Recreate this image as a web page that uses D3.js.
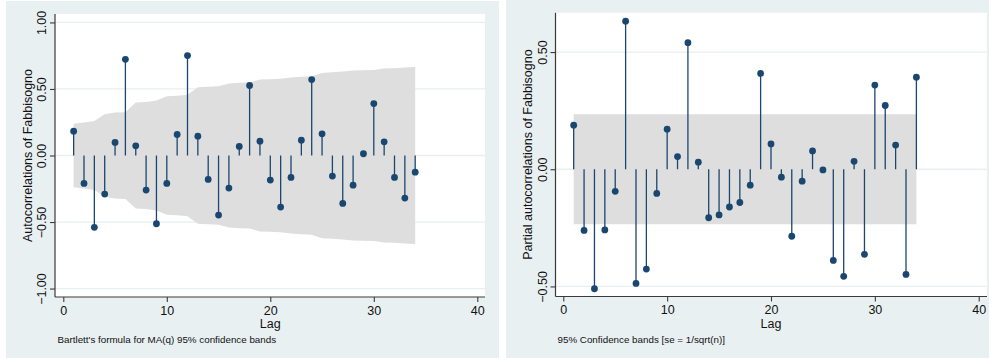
<!DOCTYPE html>
<html>
<head>
<meta charset="utf-8">
<script src="https://cdn.jsdelivr.net/npm/d3@7"></script>
<style>
  html, body { margin: 0; padding: 0; background: #ffffff; }
  svg { display: block; font-family: "Liberation Sans", Arial, sans-serif; }
</style>
</head>
<body>
<svg id="chart" width="989" height="358"></svg>
<script>
// Lags 1..34
const lags = d3.range(1, 35);

// Autocorrelations of Fabbisogno
const acfValues = [
  0.183, -0.210, -0.540, -0.290, 0.098, 0.723, 0.073, -0.260, -0.513, -0.210,
  0.158, 0.751, 0.145, -0.180, -0.448, -0.245, 0.068, 0.526, 0.108, -0.185,
  -0.388, -0.165, 0.115, 0.571, 0.163, -0.155, -0.360, -0.223, 0.013, 0.390,
  0.103, -0.165, -0.320, -0.125
];

// Bartlett MA(q) 95% confidence limits (upper; lower is the mirror)
const acfBand = [
  0.238, 0.248, 0.260, 0.310, 0.323, 0.326, 0.398, 0.403, 0.413, 0.446,
  0.450, 0.456, 0.513, 0.516, 0.521, 0.541, 0.546, 0.548, 0.571, 0.573,
  0.576, 0.586, 0.591, 0.596, 0.621, 0.626, 0.631, 0.638, 0.641, 0.643,
  0.653, 0.656, 0.661, 0.666
];

// Partial autocorrelations of Fabbisogno
const pacfValues = [
  0.188, -0.261, -0.510, -0.259, -0.094, 0.632, -0.487, -0.426, -0.103, 0.171,
  0.054, 0.540, 0.030, -0.207, -0.195, -0.161, -0.142, -0.068, 0.409, 0.108,
  -0.034, -0.286, -0.051, 0.078, -0.003, -0.389, -0.457, 0.034, -0.363, 0.359,
  0.272, 0.103, -0.449, 0.393
];

// 95% band for the PACF, se = 1/sqrt(n)
const pacfLimit = 0.235;

const xTicks = [0, 10, 20, 30, 40];
const acfYTicks = [-1, -0.5, 0, 0.5, 1];
const pacfYTicks = [-0.5, 0, 0.5];

const acfTitle = "Autocorrelations of Fabbisogno";
const pacfTitle = "Partial autocorrelations of Fabbisogno";
const acfNote = "Bartlett's formula for MA(q) 95% confidence bands";
const pacfNote = "95% Confidence bands [se = 1/sqrt(n)]";

const COLORS = {
  panel: "#e9f0f2",
  plot: "#ffffff",
  grid: "#e7eff1",
  band: "#dedede",
  mark: "#1a476f",
  axis: "#3a3a3a",
  text: "#111111"
};

const svg = d3.select("#chart");

function drawPanel(cfg) {
  const g = svg.append("g");

  // outer graph region
  g.append("rect")
    .attr("x", cfg.panel[0]).attr("y", cfg.panel[1])
    .attr("width", cfg.panel[2] - cfg.panel[0])
    .attr("height", cfg.panel[3] - cfg.panel[1])
    .attr("fill", COLORS.panel);

  const [pl, pt, pr, pb] = cfg.plot;

  // plot region
  g.append("rect")
    .attr("x", pl).attr("y", pt)
    .attr("width", pr - pl).attr("height", pb - pt)
    .attr("fill", COLORS.plot);

  const x = d3.scaleLinear().domain([0, 40]).range(cfg.xRange);
  const y = d3.scaleLinear().domain(cfg.yDomain).range([pb, pt]);

  // gridlines
  g.append("g").selectAll("line")
    .data(cfg.yTicks)
    .join("line")
    .attr("x1", pl).attr("x2", pr)
    .attr("y1", d => y(d)).attr("y2", d => y(d))
    .attr("stroke", COLORS.grid)
    .attr("stroke-width", 1.3);

  // confidence band
  const area = d3.area()
    .x(d => x(d.lag))
    .y0(d => y(-d.limit))
    .y1(d => y(d.limit));
  g.append("path")
    .datum(lags.map((lag, i) => ({ lag, limit: cfg.band[i] })))
    .attr("d", area)
    .attr("fill", COLORS.band);

  // spikes
  g.append("g").selectAll("line")
    .data(lags)
    .join("line")
    .attr("x1", d => x(d)).attr("x2", d => x(d))
    .attr("y1", y(0))
    .attr("y2", (d, i) => y(cfg.values[i]))
    .attr("stroke", COLORS.mark)
    .attr("stroke-width", 1.3);

  // markers
  g.append("g").selectAll("circle")
    .data(lags)
    .join("circle")
    .attr("cx", d => x(d))
    .attr("cy", (d, i) => y(cfg.values[i]))
    .attr("r", 3.4)
    .attr("fill", COLORS.mark);

  // y axis
  const yAxis = g.append("g")
    .attr("transform", `translate(${pl},0)`)
    .call(d3.axisLeft(y).tickValues(cfg.yTicks).tickSize(5).tickPadding(3)
      .tickFormat(d3.format(".2f")));
  yAxis.select(".domain").remove();
  yAxis.append("line")
    .attr("x1", 0).attr("x2", 0).attr("y1", pt).attr("y2", pb)
    .attr("stroke", COLORS.axis).attr("stroke-width", 1.2);
  yAxis.selectAll(".tick line").attr("stroke", COLORS.axis).attr("stroke-width", 1.1);
  yAxis.selectAll(".tick text")
    .attr("font-size", 12.5)
    .attr("fill", COLORS.text)
    .attr("text-anchor", "middle")
    .attr("x", 0).attr("dy", 0)
    .attr("transform", "translate(-9,0) rotate(-90)");

  // x axis
  const xAxis = g.append("g")
    .attr("transform", `translate(0,${pb})`)
    .call(d3.axisBottom(x).tickValues(xTicks).tickSize(5).tickPadding(4)
      .tickFormat(d3.format("d")));
  xAxis.select(".domain").remove();
  xAxis.append("line")
    .attr("x1", pl).attr("x2", pr).attr("y1", 0).attr("y2", 0)
    .attr("stroke", COLORS.axis).attr("stroke-width", 1.2);
  xAxis.selectAll(".tick line").attr("stroke", COLORS.axis).attr("stroke-width", 1.1);
  xAxis.selectAll(".tick text")
    .attr("font-size", 12.5)
    .attr("fill", COLORS.text);

  // axis titles
  g.append("text")
    .attr("x", x(20)).attr("y", pb + 31)
    .attr("text-anchor", "middle")
    .attr("font-size", 12.5)
    .attr("fill", COLORS.text)
    .text("Lag");

  g.append("text")
    .attr("transform", `translate(${cfg.titleX},${(pt + pb) / 2}) rotate(-90)`)
    .attr("text-anchor", "middle")
    .attr("font-size", 12.5)
    .attr("fill", COLORS.text)
    .text(cfg.title);

  // note
  g.append("text")
    .attr("x", cfg.noteX).attr("y", 343)
    .attr("font-size", 9.8)
    .attr("fill", COLORS.text)
    .text(cfg.note);
}

drawPanel({
  panel: [6, 1, 499, 358],
  plot: [55, 14, 485, 297],
  xRange: [63.3, 477.3],
  yDomain: [-1.0635, 1.0635],
  yTicks: acfYTicks,
  values: acfValues,
  band: acfBand,
  title: acfTitle,
  titleX: 31.5,
  note: acfNote,
  noteX: 57.5
});

drawPanel({
  panel: [506, 0, 989, 358],
  plot: [555.5, 12.7, 987, 296.5],
  xRange: [563.3, 978.7],
  yDomain: [-0.543, 0.668],
  yTicks: pacfYTicks,
  values: pacfValues,
  band: lags.map(() => pacfLimit),
  title: pacfTitle,
  titleX: 531.5,
  note: pacfNote,
  noteX: 557.5
});
</script>
</body>
</html>
